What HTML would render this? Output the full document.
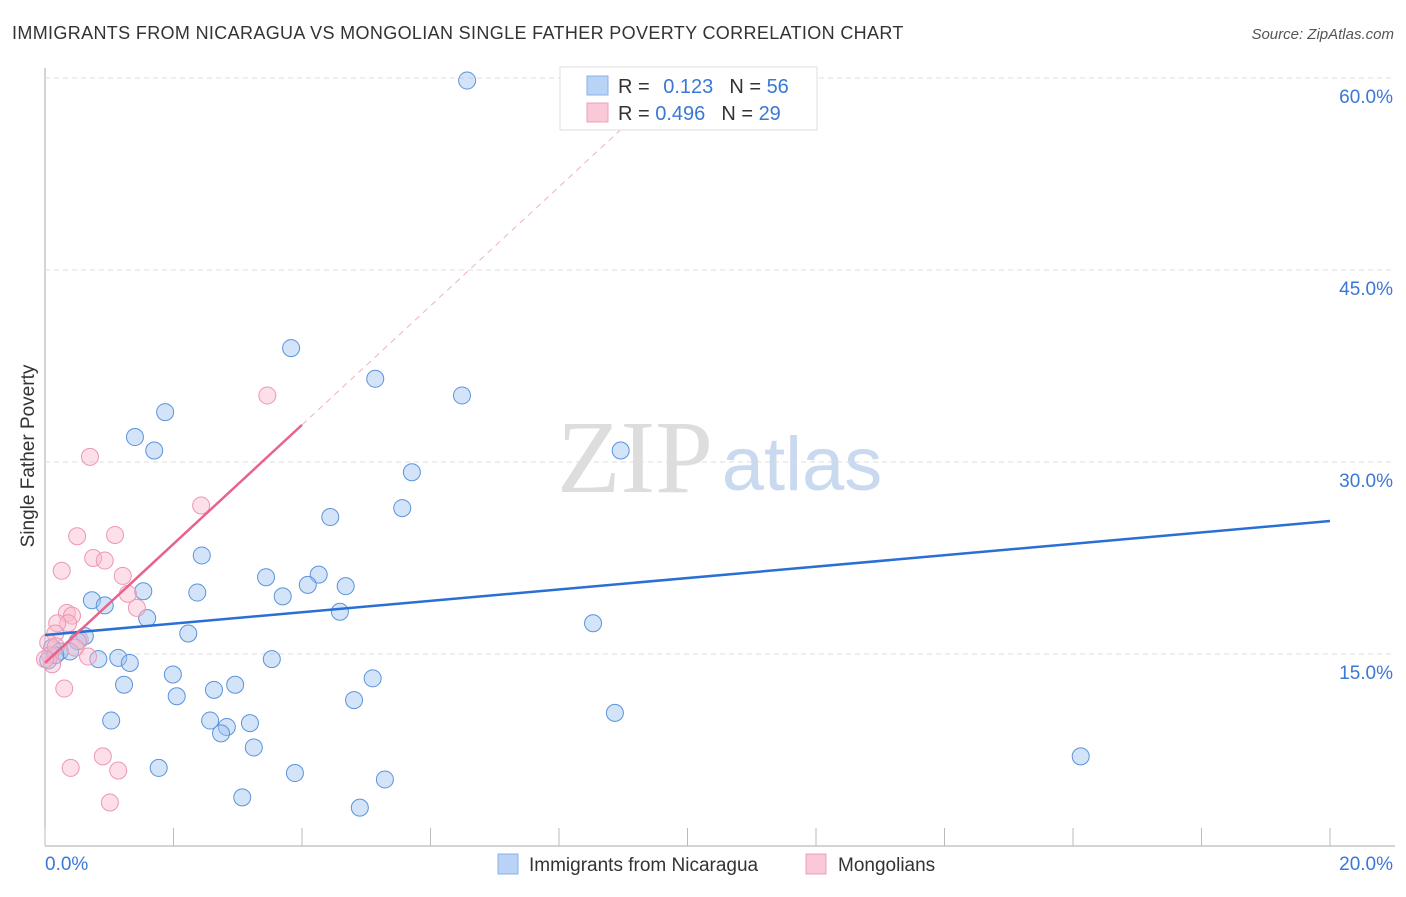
<!DOCTYPE html>
<html><head><meta charset="utf-8"><style>
body{margin:0;background:#fff;font-family:"Liberation Sans",sans-serif}
</style></head><body>
<svg id="c" width="1406" height="892" xmlns="http://www.w3.org/2000/svg">
<text x="12" y="39" font-size="18" fill="#333" letter-spacing="0.35">IMMIGRANTS FROM NICARAGUA VS MONGOLIAN SINGLE FATHER POVERTY CORRELATION CHART</text>
<text x="1394" y="39" font-size="15" fill="#555" font-style="italic" text-anchor="end">Source: ZipAtlas.com</text>
<text x="34" y="456" font-size="19" fill="#333" text-anchor="middle" transform="rotate(-90 34 456)">Single Father Poverty</text>
<text x="635" y="492" font-size="104" fill="#ddd" font-family="Liberation Serif,serif" text-anchor="middle">ZIP</text>
<text x="802" y="490" font-size="76" fill="#c9d9f0" text-anchor="middle">atlas</text>
<g id="grid"></g><g id="marks"></g>
<g>
<rect x="560" y="67" width="257" height="63" fill="#fff" stroke="#ddd"/>
<rect x="587" y="76" width="21" height="19" fill="#b8d3f5" stroke="#8ab0e8"/>
<rect x="587" y="103" width="21" height="19" fill="#f9c9d7" stroke="#eea0b8"/>
<text x="618" y="93" font-size="20" fill="#333">R = <tspan fill="#3a78d6" dx="8">0.123</tspan><tspan fill="#333" dx="16">N = </tspan><tspan fill="#3a78d6">56</tspan></text>
<text x="618" y="120" font-size="20" fill="#333">R = <tspan fill="#3a78d6">0.496</tspan><tspan fill="#333" dx="16">N = </tspan><tspan fill="#3a78d6">29</tspan></text>
</g>
<g>
<rect x="498" y="854" width="20" height="20" fill="#b8d3f5" stroke="#8ab0e8"/>
<text x="529" y="871" font-size="19" fill="#333">Immigrants from Nicaragua</text>
<rect x="806" y="854" width="20" height="20" fill="#f9c9d7" stroke="#eea0b8"/>
<text x="838" y="871" font-size="19" fill="#333">Mongolians</text>
</g>
</svg>
<script>
const blueX=[6.57,3.83,5.14,6.49,1.87,1.40,1.70,8.96,5.71,5.56,4.44,2.44,3.44,4.26,4.68,4.09,1.53,2.37,3.70,0.73,0.93,4.59,1.59,8.53,2.23,0.62,0.51,0.11,0.23,0.39,0.83,1.14,1.32,3.53,1.99,5.10,1.23,2.96,2.63,2.05,4.81,1.03,2.57,2.83,3.19,8.87,2.74,3.25,16.12,1.77,3.89,5.29,3.07,4.90,0.05,0.16];
const blueY=[59.8,38.9,36.5,35.2,33.9,31.95,30.9,30.9,29.2,26.4,25.7,22.7,21.0,21.2,20.3,20.4,19.9,19.8,19.5,19.2,18.8,18.3,17.8,17.4,16.6,16.4,16.0,15.5,15.2,15.2,14.6,14.7,14.3,14.6,13.4,13.1,12.6,12.6,12.2,11.7,11.4,9.8,9.8,9.3,9.6,10.4,8.8,7.7,7.0,6.1,5.7,5.2,3.8,3.0,14.5,14.9];
const pinkX=[0.26,0.70,3.46,2.43,0.50,1.09,0.75,0.93,1.21,1.29,1.43,0.34,0.42,0.36,0.19,0.54,0.16,0.05,0.08,0.67,0.11,0.30,0.90,0.40,1.14,1.01,0.0,0.17,0.47];
const pinkY=[21.5,30.4,35.2,26.6,24.2,24.3,22.5,22.3,21.1,19.7,18.6,18.2,18.0,17.4,17.4,16.1,16.6,15.9,14.9,14.8,14.2,12.3,7.0,6.1,5.9,3.4,14.6,15.6,15.5];
const xTicks=[0,20];const yTicks=[15,30,45,60];
const blueLine=[16.48,25.39];const pinkIntercept=14.3,pinkSlope=4.65;
const X=v=>45+v*64.25, Y=v=>846-v*12.8;
const NS="http://www.w3.org/2000/svg";
function mk(t,a,p){const e=document.createElementNS(NS,t);for(const k in a)e.setAttribute(k,a[k]);p.appendChild(e);return e;}
const g=document.getElementById('grid'),m=document.getElementById('marks');
let ax=mk('line',{x1:45,y1:68,x2:45,y2:846,stroke:'#aaa'},g);


let bx=mk('line',{x1:45,y1:846,x2:1395,y2:846,stroke:'#aaa'},g);


for(let i=0;i<=10;i++){const t=mk('line',{x1:X(i*2),x2:X(i*2),y1:828,y2:846,stroke:'#bbb'},g);

}
yTicks.forEach(v=>{const l=mk('line',{x1:45,x2:1395,y1:Y(v),y2:Y(v),stroke:'#ddd','stroke-dasharray':'5,4'},g);


const t=mk('text',{x:1393,y:Y(v)+25,'font-size':19,fill:'#3a78d6','text-anchor':'end'},g);t.textContent=v.toFixed(1)+'%';

});
xTicks.forEach((v,i)=>{const t=mk('text',{x:i?1393:45,y:870,'font-size':19,fill:'#3a78d6','text-anchor':i?'end':'start'},g);t.textContent=v.toFixed(1)+'%';

});
blueX.forEach((x,i)=>{const c=mk('circle',{cx:X(x),cy:Y(blueY[i]),r:8.5,fill:'rgba(160,195,240,0.45)',stroke:'#5b93dc','stroke-width':1},m);

});
pinkX.forEach((x,i)=>{const c=mk('circle',{cx:X(x),cy:Y(pinkY[i]),r:8.5,fill:'rgba(248,185,205,0.45)',stroke:'#ec98b3','stroke-width':1},m);

});
const bl=mk('line',{x1:X(0),y1:Y(blueLine[0]),x2:X(20),y2:Y(blueLine[1]),stroke:'#2a6fd4','stroke-width':2.5},m);


const pd=mk('line',{x1:X(4),y1:Y(pinkIntercept+pinkSlope*4),x2:X(9.1),y2:Y(pinkIntercept+pinkSlope*9.1),stroke:'#f0b0c4','stroke-width':1,'stroke-dasharray':'6,5'},m);


const pl=mk('line',{x1:X(0),y1:Y(pinkIntercept),x2:X(4),y2:Y(pinkIntercept+pinkSlope*4),stroke:'#e8628e','stroke-width':2.5},m);


</script>
</body></html>
